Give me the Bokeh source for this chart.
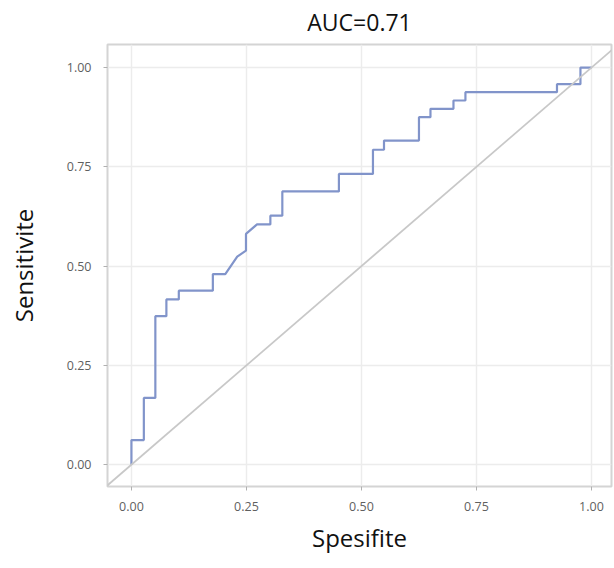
from bokeh.plotting import figure
from bokeh.embed import file_html
from bokeh.resources import INLINE
from bokeh.models import Range1d, FixedTicker, Slope

# ROC curve path (1 - specificity, sensitivity)
fpr = [0.0, 0.0, 0.027, 0.027, 0.052, 0.052, 0.076, 0.076, 0.103, 0.103,
       0.177, 0.177, 0.204, 0.23, 0.249, 0.249, 0.273, 0.302, 0.302, 0.328,
       0.328, 0.451, 0.451, 0.525, 0.525, 0.549, 0.549, 0.625, 0.625, 0.65,
       0.65, 0.70, 0.70, 0.726, 0.726, 0.925, 0.925, 0.976, 0.976, 1.0]
tpr = [0.0, 0.062, 0.062, 0.168, 0.168, 0.374, 0.374, 0.416, 0.416, 0.438,
       0.438, 0.480, 0.480, 0.524, 0.539, 0.581, 0.605, 0.605, 0.627, 0.627,
       0.688, 0.688, 0.732, 0.732, 0.793, 0.793, 0.816, 0.816, 0.875, 0.875,
       0.896, 0.896, 0.917, 0.917, 0.938, 0.938, 0.958, 0.958, 1.0, 1.0]
ticks = [0.0, 0.25, 0.5, 0.75, 1.0]
tick_labels = {0.0: "0.00", 0.25: "0.25", 0.5: "0.50", 0.75: "0.75", 1.0: "1.00"}
auc_text = "AUC=0.71"

p = figure(frame_width=504, frame_height=442, output_backend="svg",
           toolbar_location=None, title=auc_text,
           x_range=Range1d(-0.052, 1.0435), y_range=Range1d(-0.055, 1.058),
           min_border_left=107, min_border_right=2, min_border_top=44,
           min_border_bottom=78)

p.title.align = "center"
p.title.vertical_align = "top"
p.title.text_font = "Open Sans"
p.title.text_font_size = "23px"
p.title.text_font_style = "normal"
p.title.text_color = "#111111"
p.title.offset = 0

p.background_fill_color = "white"
p.outline_line_color = "#d4d4d4"
p.outline_line_width = 2

for ax in (p.xaxis[0], p.yaxis[0]):
    ax.ticker = FixedTicker(ticks=ticks)
    ax.major_label_overrides = tick_labels
    ax.axis_line_color = None
    ax.major_tick_line_color = "#b0b0b0"
    ax.major_tick_out = 4
    ax.major_tick_in = 0
    ax.minor_tick_line_color = None
    ax.major_label_text_font = "Open Sans"
    ax.major_label_text_font_size = "12.5px"
    ax.major_label_text_color = "#5f5f5f"
    ax.axis_label_text_font = "Open Sans"
    ax.axis_label_text_font_size = "24px"
    ax.axis_label_text_font_style = "normal"
    ax.axis_label_text_color = "#111111"

p.xaxis.axis_label = "Spesifite"
p.yaxis.axis_label = "Sensitivite"
p.xaxis.major_label_standoff = 11
p.yaxis.major_label_standoff = 12
p.xaxis.axis_label_standoff = 7
p.yaxis.axis_label_standoff = 24

p.xgrid.ticker = FixedTicker(ticks=ticks)
p.ygrid.ticker = FixedTicker(ticks=ticks)
p.xgrid.grid_line_color = "#ececec"
p.ygrid.grid_line_color = "#ececec"
p.xgrid.grid_line_width = 1.5
p.ygrid.grid_line_width = 1.5

p.add_layout(Slope(gradient=1, y_intercept=0, line_color="#c8c8c8", line_width=1.8))

p.line(fpr, tpr, line_color="#8194ca", line_width=2.2)

open("out.html", "w").write(file_html(p, INLINE))
